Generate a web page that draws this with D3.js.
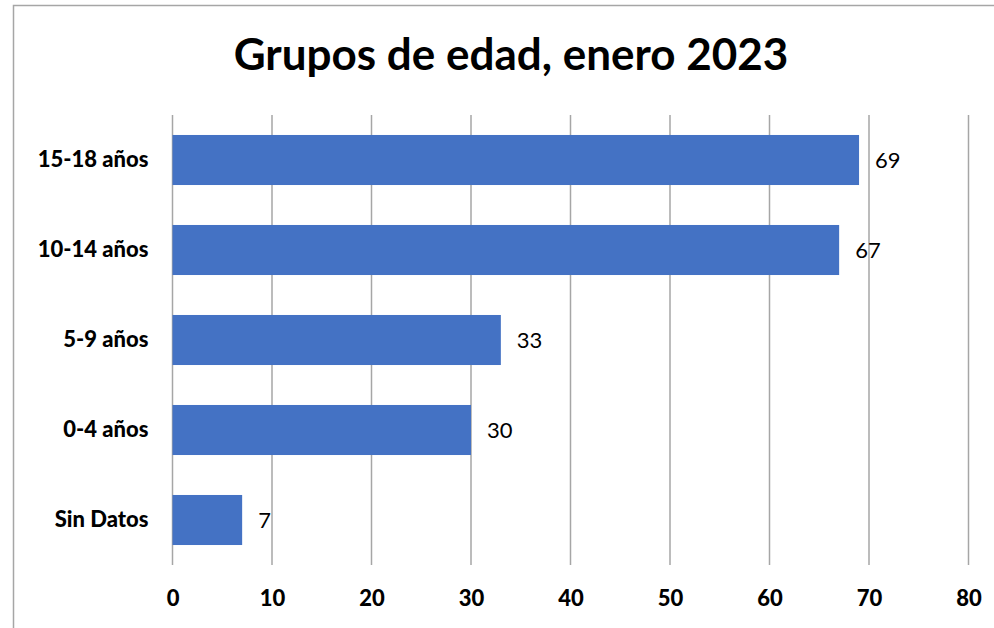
<!DOCTYPE html>
<meta charset="utf-8">
<script src="https://d3js.org/d3.v7.min.js"></script>
<style>
  body { margin: 0; background: #fff; }
  text { font-family: Lato, "Open Sans", sans-serif; }
</style>
<svg id="vis"></svg>
<script>
  var categories = ['15-18 años', '10-14 años', '5-9 años', '0-4 años', 'Sin Datos'];
  var values = [69, 67, 33, 30, 7];
  var ticks = [0, 10, 20, 30, 40, 50, 60, 70, 80];

  var width = 994, height = 628;
  var svg = d3.select('#vis').attr('width', width).attr('height', height);

  // chart frame (only left and top edges show)
  svg.append('path')
      .attr('d', 'M13.5,628 V5.5 H994')
      .attr('fill', 'none')
      .attr('stroke', '#a6a6a6')
      .attr('stroke-width', 1.5);

  svg.append('text')
      .attr('x', 511).attr('y', 70)
      .attr('text-anchor', 'middle')
      .attr('font-size', 44).attr('font-weight', 'bold')
      .text('Grupos de edad, enero 2023');

  var x = d3.scaleLinear().domain([0, 80]).range([172.5, 968.5]);
  var y = d3.scaleBand().domain(categories).range([115, 565]).paddingInner(0.444).paddingOuter(0.222);

  // gridlines
  svg.append('g').selectAll('line').data(ticks).enter().append('line')
      .attr('x1', function(d) { return x(d); })
      .attr('x2', function(d) { return x(d); })
      .attr('y1', 115).attr('y2', 565)
      .attr('stroke', '#a6a6a6').attr('stroke-width', 1.5);

  // bars
  svg.append('g').selectAll('rect').data(values).enter().append('rect')
      .attr('x', x(0))
      .attr('y', function(d, i) { return y(categories[i]); })
      .attr('width', function(d) { return x(d) - x(0); })
      .attr('height', y.bandwidth())
      .attr('fill', '#4472c4');

  // value labels
  svg.append('g').selectAll('text').data(values).enter().append('text')
      .attr('x', function(d) { return x(d) + 16; })
      .attr('y', function(d, i) { return y(categories[i]) + y.bandwidth() / 2; })
      .attr('dy', '0.35em')
      .attr('font-size', 22)
      .text(function(d) { return d; });

  // x axis
  var xAxis = svg.append('g')
      .attr('transform', 'translate(0,565)')
      .call(d3.axisBottom(x).tickValues(ticks).tickSize(0).tickPadding(25));
  xAxis.select('.domain').remove();
  xAxis.selectAll('text').attr('font-size', 22).attr('font-weight', 900)
      .attr('fill', '#000').style('font-family', 'Lato, sans-serif');

  // y axis
  var yAxis = svg.append('g')
      .attr('transform', 'translate(172.5,0)')
      .call(d3.axisLeft(y).tickSize(0).tickPadding(24));
  yAxis.select('.domain').remove();
  yAxis.selectAll('text').attr('font-size', 22).attr('font-weight', 900)
      .attr('fill', '#000').style('font-family', 'Lato, sans-serif');
</script>
